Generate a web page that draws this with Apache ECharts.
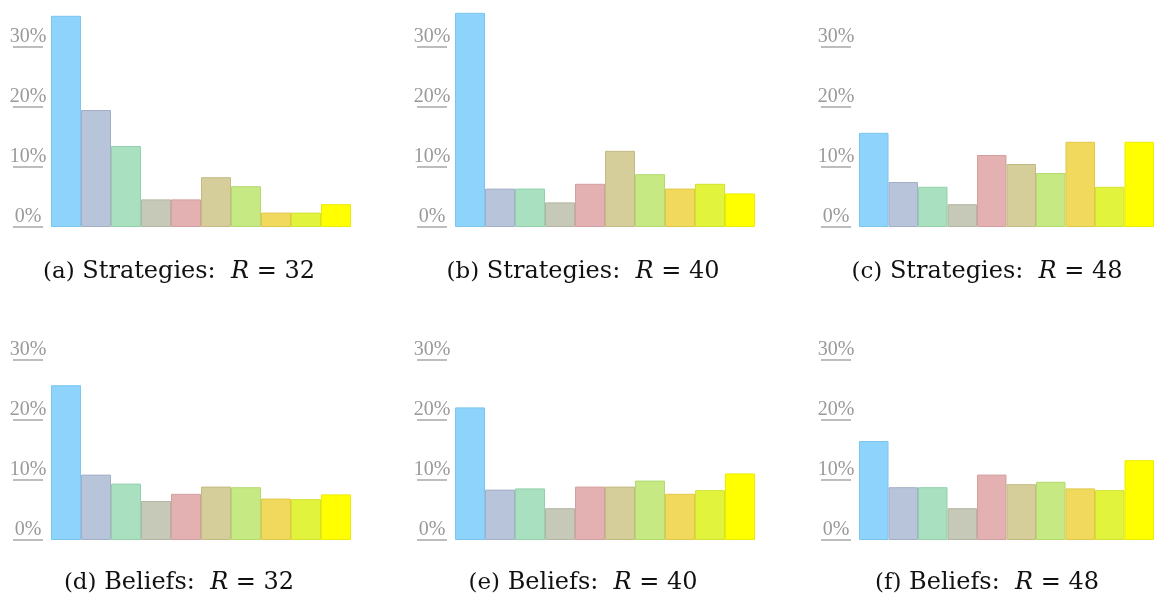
<!DOCTYPE html>
<html>
<head>
<meta charset="utf-8">
<script src="https://cdn.jsdelivr.net/npm/echarts@6/dist/echarts.min.js"></script>
<style>
  html, body { margin: 0; padding: 0; background: #fff; }
  #chart { width: 1154px; height: 598px; }
</style>
</head>
<body>
<div id="chart"></div>
<script>
// ten strategy / belief classes, one bar each
const categories = ['c1', 'c2', 'c3', 'c4', 'c5', 'c6', 'c7', 'c8', 'c9', 'c10'];
const yTicks = [0, 10, 20, 30];

// share (%) per class
const stratR32 = [35.2, 19.5, 13.5, 4.6, 4.6, 8.3, 6.8, 2.4, 2.4, 3.8];
const stratR40 = [35.7, 6.4, 6.4, 4.1, 7.2, 12.7, 8.8, 6.4, 7.2, 5.6];
const stratR48 = [15.7, 7.5, 6.7, 3.8, 12.0, 10.5, 9.0, 14.2, 6.7, 14.2];
const beliefR32 = [25.8, 10.9, 9.4, 6.5, 7.7, 8.9, 8.8, 6.9, 6.8, 7.6];
const beliefR40 = [22.1, 8.4, 8.6, 5.3, 8.9, 8.9, 9.9, 7.7, 8.3, 11.1];
const beliefR48 = [16.5, 8.8, 8.8, 5.3, 10.9, 9.3, 9.7, 8.6, 8.3, 13.3];

const captions = [
    ['(a)', 'Strategies:', '32'],
    ['(b)', 'Strategies:', '40'],
    ['(c)', 'Strategies:', '48'],
    ['(d)', 'Beliefs:', '32'],
    ['(e)', 'Beliefs:', '40'],
    ['(f)', 'Beliefs:', '48'],
];

const fills = ['#8dd3fc', '#b8c4d9', '#a9e1c0', '#c7c9b8', '#e3b1b1', '#d5ce9a', '#c6e983', '#f0d95d', '#e2f33e', '#ffff00'];
const borders = ['#7cc6ee', '#a3afc6', '#93d0ab', '#b4b6a2', '#d39f9f', '#c3bb83', '#b3d96f', '#e1c747', '#d2e32b', '#ecec00'];

const panels = [stratR32, stratR40, stratR48, beliefR32, beliefR40, beliefR48];
const lefts = [51, 455, 859];
const tops = [11, 324];
const captionY = [270, 581];

const chart = echarts.init(document.getElementById('chart'));

const grid = [], xAxis = [], yAxis = [], series = [], title = [];
panels.forEach(function (vals, i) {
    const col = i % 3, row = Math.floor(i / 3);
    grid.push({left: lefts[col], top: tops[row], width: 300, height: 216});
    xAxis.push({
        type: 'category', gridIndex: i, data: categories,
        axisLine: {show: false}, axisTick: {show: false}, axisLabel: {show: false},
    });
    yAxis.push({
        type: 'value', gridIndex: i, min: 0, max: 36, offset: 8,
        axisLine: {show: false},
        splitLine: {show: false},
        axisTick: {
            show: true, length: 30, customValues: yTicks,
            lineStyle: {color: '#a8a8a8', width: 1.5},
        },
        axisLabel: {
            customValues: yTicks,
            formatter: '{value}%',
            align: 'center',
            verticalAlign: 'bottom',
            margin: 15,
            color: '#999',
            fontFamily: 'Liberation Serif',
            fontSize: 20,
        },
    });
    series.push({
        type: 'bar', xAxisIndex: i, yAxisIndex: i,
        barCategoryGap: 0,
        silent: true,
        data: vals.map(function (v, k) {
            return {value: v, itemStyle: {color: fills[k], borderColor: borders[k], borderWidth: 1}};
        }),
    });
    const c = captions[i];
    title.push({
        left: lefts[col] + 123, top: captionY[row] - 15, textAlign: 'center',
        text: '{l|' + c[0] + '} {t|' + c[1] + '}  {i|R} {t|= ' + c[2] + '}',
        textStyle: {
            fontFamily: 'DejaVu Serif', fontSize: 24, fontWeight: 'normal', color: '#111',
            rich: {
                l: {fontFamily: 'DejaVu Serif', fontSize: 23, fontWeight: 'normal', color: '#111'},
                t: {fontFamily: 'DejaVu Serif', fontSize: 24, fontWeight: 'normal', color: '#111'},
                i: {fontFamily: 'DejaVu Serif', fontStyle: 'italic', fontSize: 24, fontWeight: 'normal', color: '#111'},
            },
        },
    });
});

chart.setOption({
    animation: false,
    title: title,
    grid: grid,
    xAxis: xAxis,
    yAxis: yAxis,
    series: series,
});
</script>
</body>
</html>
